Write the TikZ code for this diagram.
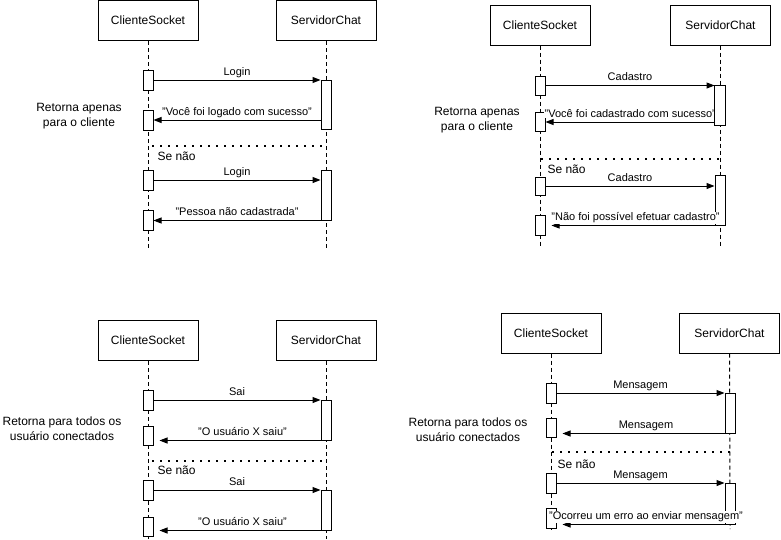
\documentclass[tikz,border=0pt]{standalone}
\usepackage{fontspec}
\setmainfont{Liberation Sans}
\usetikzlibrary{arrows.meta}
\tikzset{
  x=0.75pt, y=-0.75pt,
  every path/.style={line width=0.75pt},
  actor/.style={draw, fill=white, minimum width=100*0.75pt, minimum height=40*0.75pt, inner sep=0pt, font=\fontsize{9}{11}\selectfont},
  act/.style={draw, fill=white, minimum width=10*0.75pt, inner sep=0pt},
  life/.style={dash pattern=on 3pt off 2.25pt},
  sep/.style={line width=1.4pt, dash pattern=on 1.2pt off 4.8pt},
  msg/.style={-{Triangle[length=6pt,width=4.5pt]}},
  lbl/.style={font=\fontsize{8.25}{10}\selectfont, fill=white, inner sep=0.4pt, anchor=base, yshift=3.4pt},
  note/.style={font=\fontsize{9}{11}\selectfont, align=center, inner sep=0pt},
  senao/.style={font=\fontsize{9}{11}\selectfont, anchor=west, inner sep=0pt}
}
\newcommand\actbox[4]{\node[act, minimum height={(#4-#3)*0.75pt}] (#1) at (#2,{(#3+#4)/2}) {};}
\begin{document}
\begin{tikzpicture}
\useasboundingbox (0,0) rectangle (781,539);

% ================= Quadrant 1 =================
\node[actor] (q1c) at (148,20.5) {ClienteSocket};
\node[actor] (q1s) at (326,20.5) {ServidorChat};
\coordinate (q1ce) at (148,248);
\coordinate (q1se) at (326,248);
\draw[life] (q1c.south) -- (q1ce);
\draw[life] (q1s.south) -- (q1se);
\actbox{q1ca1}{148}{70}{90}
\actbox{q1sa1}{326}{80}{129}
\actbox{q1ca2}{148}{110}{130}
\actbox{q1ca3}{148}{170}{190}
\actbox{q1sa2}{326}{170}{220}
\actbox{q1ca4}{148}{210}{230}
\draw[msg] (q1ca1.east) -- (q1ca1.east -| q1sa1.west) node[lbl, midway] (q1l1) {Login};
\draw[msg] (q1ca2.east -| q1sa1.west) -- (q1ca2.east) node[lbl, midway] (q1l2) {"Você foi logado com sucesso"};
\draw[msg] (q1ca3.east) -- (q1ca3.east -| q1sa2.west) node[lbl, midway] (q1l3) {Login};
\draw[msg] (q1sa2.south west) -- (q1sa2.south west -| q1ca4.east) node[lbl, midway] (q1l4) {"Pessoa não cadastrada"};
\node[note] (q1n) at (79,116) {Retorna apenas\\para o cliente};
\coordinate (q1d1) at (152,146);
\coordinate (q1d2) at (322,146);
\draw[sep] (q1d1) -- (q1d2);
\node[senao] (q1sn) at (157,156) {Se não};

% ================= Quadrant 2 =================
\node[actor] (q2c) at (540,25) {ClienteSocket};
\node[actor] (q2s) at (720.5,25) {ServidorChat};
\coordinate (q2ce) at (540,247);
\coordinate (q2se) at (720.5,247);
\draw[life] (q2c.south) -- (q2ce);
\draw[life] (q2s.south) -- (q2se);
\actbox{q2ca1}{540}{76}{95}
\actbox{q2sa1}{720}{85.5}{125}
\actbox{q2ca2}{540}{112}{131}
\actbox{q2ca3}{540}{177}{195}
\actbox{q2sa2}{720}{175}{225}
\actbox{q2ca4}{540}{215}{235}
\draw[msg] (q2ca1.east) -- (q2ca1.east -| q2sa1.west) node[lbl, midway] (q2l1) {Cadastro};
\coordinate (q2r1) at (715,122);
\draw[msg] (q2r1) -- (q2r1 -| q2ca2.east) node[lbl, midway] (q2l2) {"Você foi cadastrado com sucesso"};
\draw[fill=white] (q2sa1.north west) rectangle (q2sa1.south east);
\draw[msg] (q2ca3.east) -- (q2ca3.east -| q2sa2.west) node[lbl, midway] (q2l3) {Cadastro};
\draw[msg, shorten >=6*0.75pt] (q2sa2.south east) -- (q2sa2.south east -| q2ca4.east) node[lbl, midway] (q2l4) {"Não foi possível efetuar cadastro"};
\node[note] (q2n) at (477,120) {Retorna apenas\\para o cliente};
\coordinate (q2d1) at (541,159);
\coordinate (q2d2) at (720,159);
\draw[sep] (q2d1) -- (q2d2);
\node[senao] (q2sn) at (547,169) {Se não};

% ================= Quadrant 3 =================
\node[actor] (q3c) at (148,340.5) {ClienteSocket};
\node[actor] (q3s) at (326,340.5) {ServidorChat};
\coordinate (q3ce) at (148,539);
\coordinate (q3se) at (326,539);
\draw[life] (q3c.south) -- (q3ce);
\draw[life] (q3s.south) -- (q3se);
\actbox{q3ca1}{148}{390}{410}
\actbox{q3sa1}{326}{400}{440}
\actbox{q3ca2}{148}{426}{445}
\actbox{q3ca3}{148}{480}{500}
\actbox{q3sa2}{326}{490}{530}
\actbox{q3ca4}{148}{517}{536}
\draw[msg] (q3ca1.east) -- (q3ca1.east -| q3sa1.west) node[lbl, midway] (q3l1) {Sai};
\draw[msg, shorten >=6*0.75pt] (q3sa1.south east) -- (q3sa1.south east -| q3ca2.east) node[lbl, midway] (q3l2) {"O usuário X saiu"};
\draw[msg] (q3ca3.east) -- (q3ca3.east -| q3sa2.west) node[lbl, midway] (q3l3) {Sai};
\draw[msg, shorten >=6*0.75pt] (q3sa2.south east) -- (q3sa2.south east -| q3ca4.east) node[lbl, midway] (q3l4) {"O usuário X saiu"};
\node[note] (q3n) at (62,429) {Retorna para todos os\\usuário conectados};
\coordinate (q3d1) at (152,461);
\coordinate (q3d2) at (326,461);
\draw[sep] (q3d1) -- (q3d2);
\node[senao] (q3sn) at (157,470) {Se não};

% ================= Quadrant 4 =================
\node[actor] (q4c) at (551,333) {ClienteSocket};
\node[actor] (q4s) at (729.5,333) {ServidorChat};
\coordinate (q4ce) at (551,529);
\coordinate (q4se) at (730,529);
\draw[life] (q4c.south) -- (q4ce);
\draw[life] (q4s.south) -- (q4se);
\actbox{q4ca1}{551}{383}{403}
\actbox{q4sa1}{730}{393}{433}
\actbox{q4ca2}{551}{418}{437}
\actbox{q4ca3}{551}{473}{493}
\actbox{q4sa2}{730}{483}{524}
\actbox{q4ca4}{551}{508}{528}
\draw[msg] (q4ca1.east) -- (q4ca1.east -| q4sa1.west) node[lbl, midway] (q4l1) {Mensagem};
\draw[msg, shorten >=6*0.75pt] (q4sa1.south east) -- (q4sa1.south east -| q4ca2.east) node[lbl, midway] (q4l2) {Mensagem};
\draw[msg] (q4ca3.east) -- (q4ca3.east -| q4sa2.west) node[lbl, midway] (q4l3) {Mensagem};
\draw[msg, shorten >=6*0.75pt] (q4sa2.south east) -- (q4sa2.south east -| q4ca4.east) node[lbl, midway] (q4l4) {"Ocorreu um erro ao enviar mensagem"};
\node[note] (q4n) at (468,430) {Retorna para todos os\\usuário conectados};
\coordinate (q4d1) at (552,452);
\coordinate (q4d2) at (730,452);
\draw[sep] (q4d1) -- (q4d2);
\node[senao] (q4sn) at (557,464) {Se não};
\end{tikzpicture}
\end{document}
